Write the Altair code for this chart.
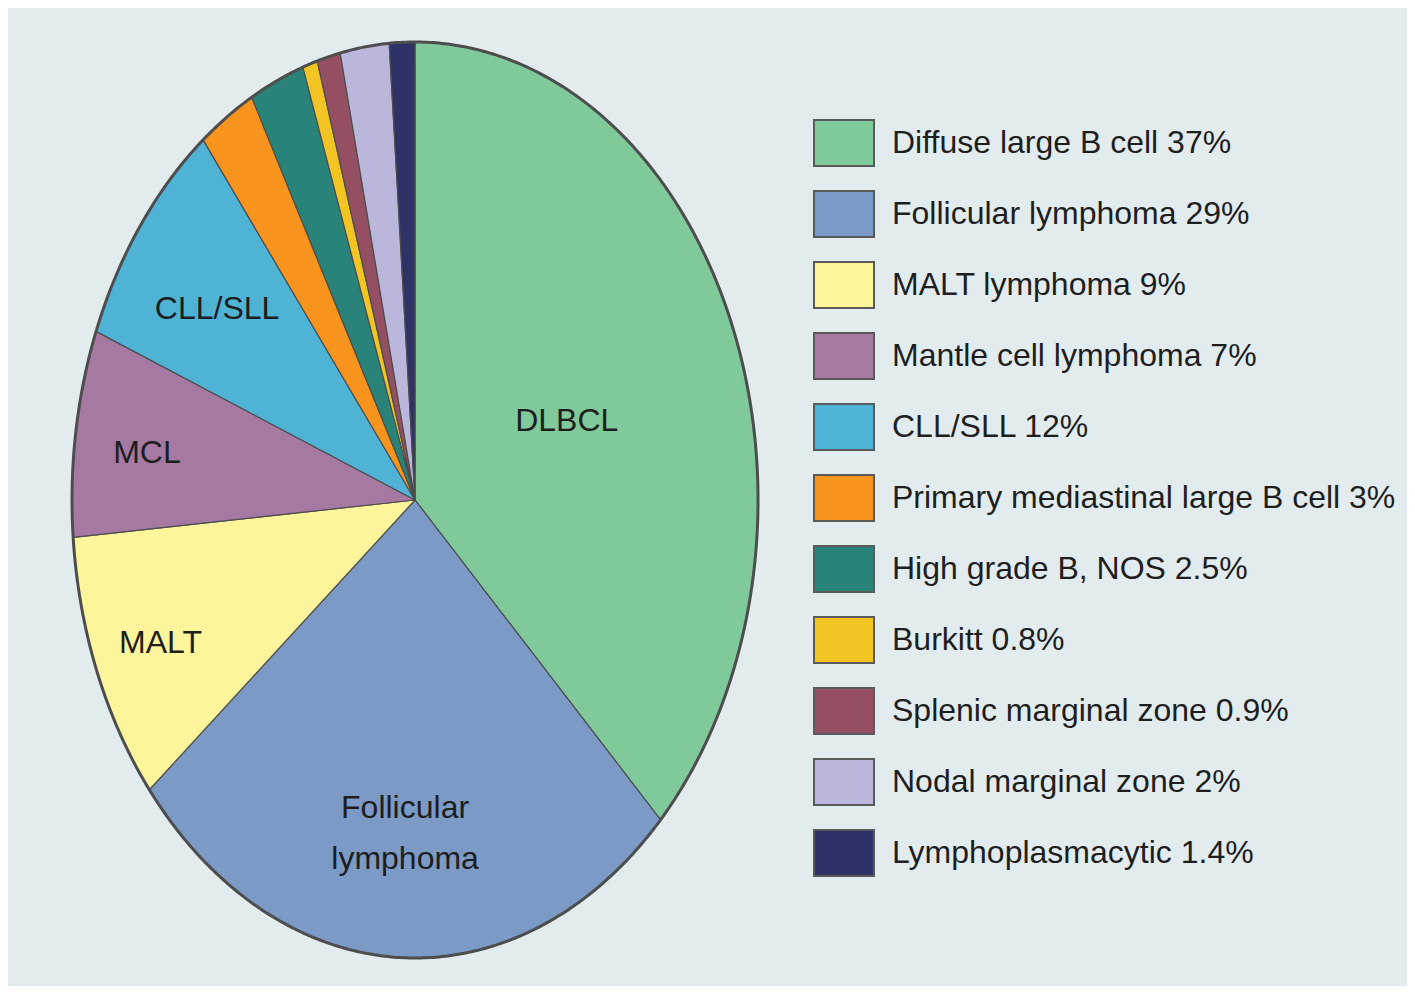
import altair as alt
import numpy as np
import pandas as pd

# ---- data ----
legend_labels = [
    "Diffuse large B cell 37%",
    "Follicular lymphoma 29%",
    "MALT lymphoma 9%",
    "Mantle cell lymphoma 7%",
    "CLL/SLL 12%",
    "Primary mediastinal large B cell 3%",
    "High grade B, NOS 2.5%",
    "Burkitt 0.8%",
    "Splenic marginal zone 0.9%",
    "Nodal marginal zone 2%",
    "Lymphoplasmacytic 1.4%",
]
# share of the pie as drawn (percent of the full turn, clockwise from 12 o'clock)
drawn_share = [37.3, 26.8, 9.6, 7.3, 8.4, 2.7, 2.6, 0.7, 1.1, 2.3, 1.2]
slice_text = ["DLBCL", "Follicular\nlymphoma", "MALT", "MCL", "CLL/SLL", "", "", "", "", "", ""]
colors = [
    "#80c99b", "#7b9ac6", "#fdf59c", "#a679a3", "#4fb3d6", "#f7941d",
    "#2a8378", "#f2c524", "#954f62", "#bbb6dc", "#2e3266",
]

# ---- layout parameters ----
label_radius = {"DLBCL": 0.48, "Follicular\nlymphoma": 0.659, "MALT": 0.80, "MCL": 0.79, "CLL/SLL": 0.72}
FONT = "Liberation Sans"
FS = 32
BG = "#e2ecee"
EDGE = "#4d4d4d"

# ---- build wedge outlines (unit-circle coordinates) from the values ----
total = float(sum(drawn_share))
rows, lab_rows = [], []
start = 0.0
for name, v, txt in zip(legend_labels, drawn_share, slice_text):
    a0 = start / total * 2 * np.pi
    a1 = (start + v) / total * 2 * np.pi
    n = max(2, int(np.ceil((a1 - a0) / np.radians(0.5))))
    angs = np.linspace(a0, a1, n + 1)
    pts = [(0.0, 0.0)] + [(np.sin(a), np.cos(a)) for a in angs] + [(0.0, 0.0)]
    for k, (x, y) in enumerate(pts):
        rows.append({"name": name, "k": k, "x": x, "y": y})
    if txt:
        mid = (a0 + a1) / 2
        r = label_radius[txt]
        lab_rows.append({"text": txt, "x": r * np.sin(mid), "y": r * np.cos(mid)})
    start += v
wedges = pd.DataFrame(rows)
labels = pd.DataFrame(lab_rows)
ring_angles = np.linspace(0, 2 * np.pi, 721)
ring = pd.DataFrame({"k": np.arange(len(ring_angles)), "x": np.sin(ring_angles), "y": np.cos(ring_angles)})

W, H = 1399, 978
xscale = alt.Scale(domain=[-1.1866, 2.892], nice=False, zero=False)
yscale = alt.Scale(domain=[-1.0611, 1.0742], nice=False, zero=False)

pie = alt.Chart(wedges).mark_line(stroke=EDGE, strokeWidth=1.2, strokeJoin="round").encode(
    x=alt.X("x:Q", scale=xscale, axis=None),
    y=alt.Y("y:Q", scale=yscale, axis=None),
    detail="name:N",
    order="k:Q",
    fill=alt.Fill(
        "name:N",
        scale=alt.Scale(domain=legend_labels, range=colors),
        legend=alt.Legend(
            title=None,
            orient="none",
            legendX=805,
            legendY=104,
            symbolType="M-1,-0.767L1,-0.767L1,0.767L-1,0.767Z",
            symbolSize=3600,
            symbolStrokeWidth=2,
            symbolStrokeColor="#5a5a5a",
            symbolOpacity=1,
            labelFont=FONT,
            labelFontSize=FS,
            labelColor="#1e1e1e",
            labelOffset=17,
            labelLimit=800,
            rowPadding=12,
            padding=0,
        ),
    ),
)

outline = alt.Chart(ring).mark_line(stroke=EDGE, strokeWidth=3).encode(
    x=alt.X("x:Q", scale=xscale, axis=None),
    y=alt.Y("y:Q", scale=yscale, axis=None),
    order="k:Q",
)

text = alt.Chart(labels).mark_text(
    font=FONT, fontSize=FS, color="#1e1e1e", align="center", baseline="middle",
    lineBreak="\n", lineHeight=51, dy=6,
).encode(
    x=alt.X("x:Q", scale=xscale, axis=None),
    y=alt.Y("y:Q", scale=yscale, axis=None),
    text="text:N",
)

chart = (
    alt.layer(pie, outline, text)
    .properties(width=W, height=H, padding=0, autosize=alt.AutoSizeParams(type="none"), background=BG)
    .configure_view(stroke=None)
)

chart.save("out.html", embed_options={"renderer": "svg", "actions": False})
